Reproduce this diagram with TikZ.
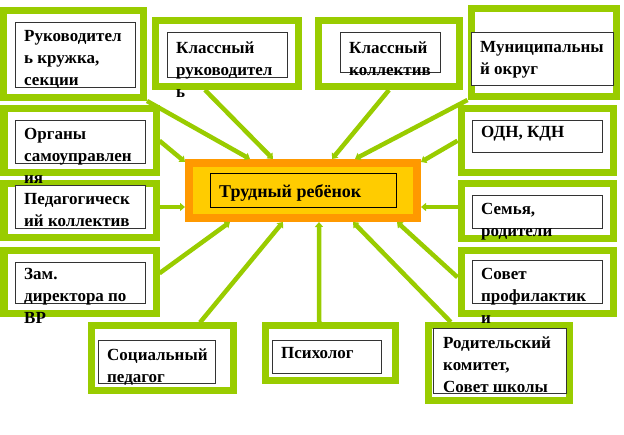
\documentclass[tikz,border=0pt]{standalone}
\usepackage{fontspec}
\setmainfont{Liberation Serif}
\usetikzlibrary{arrows.meta}
\definecolor{lime}{HTML}{99CC00}
\definecolor{tangerine}{HTML}{FF9900}
\definecolor{gold}{HTML}{FFCC00}

\begin{document}
\begin{tikzpicture}[x=1pt,y=-1pt,
  frame/.style={draw=lime,line width=7pt,fill=white,inner sep=0pt},
  inbox/.style={draw=black!80,line width=0.8pt,fill=white},
  txt/.style={anchor=north west,inner sep=0pt,align=left,
    font=\fontsize{17}{22}\selectfont\bfseries},
  link/.style={draw=lime,line width=4.5pt,-{Triangle[length=5pt,width=8pt]}}]
\useasboundingbox (0,0) rectangle (624,435);
% top row
\node[frame,minimum width=140pt,minimum height=87pt] (kruzhok) at (73.5,54) {};
\node[frame,minimum width=143pt,minimum height=66pt] (klruk) at (227,53.5) {};
\node[frame,minimum width=141pt,minimum height=66pt] (klkoll) at (389,53.5) {};
\node[frame,minimum width=145.5pt,minimum height=88pt] (munic) at (543.75,52.5) {};
% left column
\node[frame,minimum width=152pt,minimum height=63.5pt] (organy) at (80,140.75) {};
\node[frame,minimum width=152pt,minimum height=54pt] (ped) at (80,211) {};
\node[frame,minimum width=152pt,minimum height=62.5pt] (zam) at (80,282.25) {};
% right column
\node[frame,minimum width=152pt,minimum height=63.5pt] (odn) at (537,140.75) {};
\node[frame,minimum width=152pt,minimum height=55pt] (semya) at (537,211.5) {};
\node[frame,minimum width=152pt,minimum height=62.5pt] (sovet) at (537,282.25) {};
% bottom row
\node[frame,minimum width=142pt,minimum height=65pt] (soc) at (162,358.5) {};
\node[frame,minimum width=130.5pt,minimum height=54.5pt] (psych) at (330.25,353.25) {};
\node[frame,minimum width=140.5pt,minimum height=75.5pt] (rodit) at (498.75,363.25) {};
% centre
\node[draw=tangerine,line width=8pt,fill=gold,inner sep=0pt,
  minimum width=228pt,minimum height=55pt] (child) at (303,190.5) {};
\draw[draw=black,line width=0.8pt] (210,173) rectangle (396,207);
\node[txt,font=\fontsize{18}{22}\selectfont\bfseries] (child-t) at (219,184) {Трудный ребёнок};

% inner boxes
\draw[inbox] (15,22) rectangle (135,87);
\draw[inbox] (167,32) rectangle (287,77);
\draw[inbox] (340,32) rectangle (440,72);
\draw[inbox] (471,32) rectangle (613,85);
\draw[inbox] (15,120) rectangle (145,163);
\draw[inbox] (15,185) rectangle (145,228);
\draw[inbox] (15,262) rectangle (145,303);
\draw[inbox] (472,120) rectangle (602,152);
\draw[inbox] (472,195) rectangle (602,228);
\draw[inbox] (472,260) rectangle (602,303);
\draw[inbox] (98,340) rectangle (215,383);
\draw[inbox] (272,340) rectangle (381,373);
\draw[inbox] (433,328) rectangle (566,393);

% labels
\node[txt] (kruzhok-t) at (24,30.5) {Руководител\\ь кружка,\\секции};
\node[txt] (klruk-t) at (176,41.5) {Классный\\руководител\\ь};
\node[txt] (klkoll-t) at (349,41.5) {Классный\\коллектив};
\node[txt] (munic-t) at (480,41.5) {Муниципальны\\й округ};
\node[txt] (organy-t) at (24,128.5) {Органы\\самоуправлен\\ия};
\node[txt] (ped-t) at (24,193.5) {Педагогическ\\ий коллектив};
\node[txt] (zam-t) at (24,268.5) {Зам.\\директора по\\ВР};
\node[txt] (odn-t) at (481,126.5) {ОДН, КДН};
\node[txt] (semya-t) at (481,203.5) {Семья,\\родители};
\node[txt] (sovet-t) at (481,268.5) {Совет\\профилактик\\и};
\node[txt] (soc-t) at (107,348.5) {Социальный\\педагог};
\node[txt] (psych-t) at (281,347.5) {Психолог};
\node[txt] (rodit-t) at (443,336.5) {Родительский\\комитет,\\Совет школы};

% links
\draw[link] (kruzhok.south east) -- ([xshift=65pt]child.north west);
\draw[link] ([xshift=-22pt]klruk.south) -- ([xshift=88pt]child.north west);
\draw[link] (klkoll.south) -- ([xshift=147pt]child.north west);
\draw[link] (munic.south west) -- ([xshift=170pt]child.north west);
\draw[link] (organy.east) -- ([yshift=-3pt]child.north west);
\draw[link] ([yshift=4pt]ped.east) -- ([yshift=-16.5pt]child.west);
\draw[link] ([yshift=9pt]zam.east) -- ([xshift=45pt]child.south west);
\draw[link] ([xshift=38pt]soc.north) -- ([xshift=98pt]child.south west);
\draw[link] ([xshift=-11pt]psych.north) -- ([xshift=134pt]child.south west);
\draw[link] ([xshift=-48pt]rodit.north) -- ([xshift=168pt]child.south west);
\draw[link] ([yshift=5pt]sovet.west) -- ([xshift=212pt]child.south west);
\draw[link] ([yshift=4.5pt]semya.west) -- ([yshift=-16.5pt]child.east);
\draw[link] (odn.west) -- ([yshift=-3pt]child.north east);
\end{tikzpicture}
\end{document}
